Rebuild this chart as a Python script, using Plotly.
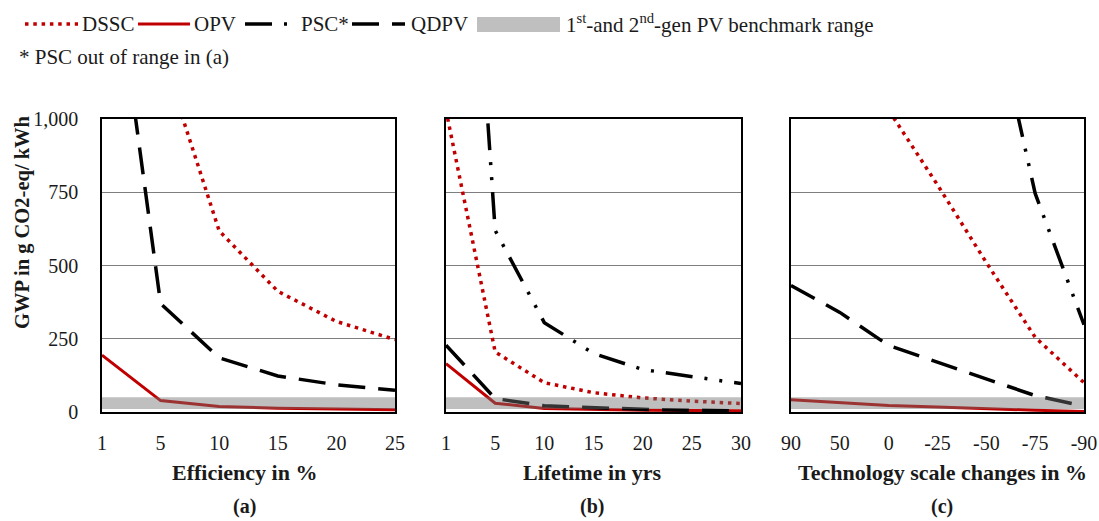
import plotly.graph_objects as go

# ---- data -------------------------------------------------------------
eff_labels = ["1", "5", "10", "15", "20", "25"]
dssc_eff = [6180, 1236, 618, 412, 309, 247]
opv_eff = [194, 39, 19, 13, 10, 8]
qdpv_eff = [1850, 370, 185, 123, 93, 74]

life_labels = ["1", "5", "10", "15", "20", "25", "30"]
dssc_life = [1030, 205, 100, 66, 48, 37, 29]
opv_life = [165, 30, 12, 8, 6, 5, 4]
psc_life = [3100, 620, 305, 200, 145, 122, 97]
qdpv_life = [228, 46, 21, 14, 9, 6, 4]

scale_labels = ["90", "50", "0", "-25", "-50", "-75", "-90"]
dssc_scale = [1960, 1545, 1030, 775, 510, 255, 100]
opv_scale = [42, 33, 22, 17, 11, 6, 2]
psc_scale = [5670, 4475, 2985, 2240, 1490, 746, 298]
qdpv_scale = [432, 340, 227, 170, 110, 56, 20]

benchmark_low, benchmark_high = 10, 50

y_ticks = [0, 250, 500, 750, 1000]
y_ticktext = ["0", "250", "500", "750", "1,000"]

x_titles = ["Efficiency in %", "Lifetime in yrs", "Technology scale changes in %"]
panel_tags = ["(a)", "(b)", "(c)"]

# ---- styling ----------------------------------------------------------
W, H = 1099, 521
FONT = "'Liberation Serif', 'Times New Roman', 'DejaVu Serif', serif"
RED = "#C00000"
BLACK = "#000000"
TEXT = "#1a1a1a"
BAND = "rgba(112,112,112,0.45)"
LEGEND_SIZE = 21

styles = {
    "DSSC": dict(color=RED, width=3.5, dash="3.5px,4.8px"),
    "OPV": dict(color=RED, width=3),
    "PSC*": dict(color=BLACK, width=3.5, dash="27px,12px,3px,12px,3px,12px"),
    "QDPV": dict(color=BLACK, width=3.5, dash="27px,13px"),
}


def fx(x):
    return x / W


def fy(y):
    return 1 - y / H


panels = [
    (eff_labels, {"DSSC": dssc_eff, "OPV": opv_eff, "QDPV": qdpv_eff}),
    (life_labels, {"DSSC": dssc_life, "OPV": opv_life, "PSC*": psc_life, "QDPV": qdpv_life}),
    (scale_labels, {"DSSC": dssc_scale, "OPV": opv_scale, "PSC*": psc_scale, "QDPV": qdpv_scale}),
]
x_domains = [(102, 395), (446, 741), (791, 1084)]
title_centers = [244, 592, 942]
y_domain = [fy(412), fy(119)]

fig = go.Figure()
layout = dict(
    width=W, height=H, autosize=False,
    margin=dict(l=0, r=0, t=0, b=0, pad=0, autoexpand=False),
    paper_bgcolor="white", plot_bgcolor="white",
    showlegend=False,
    font=dict(family=FONT, color=TEXT),
)

annotations = []
for i, (labels, series) in enumerate(panels):
    n = i + 1
    xa = "x" if n == 1 else f"x{n}"
    ya = "y" if n == 1 else f"y{n}"
    for name, vals in series.items():
        fig.add_trace(go.Scatter(
            x=labels, y=vals, mode="lines", name=name,
            line=styles[name], xaxis=xa, yaxis=ya, hoverinfo="skip",
        ))
    # benchmark range, laid over the curves
    fig.add_trace(go.Scatter(
        x=[labels[0], labels[-1], labels[-1], labels[0], labels[0]],
        y=[benchmark_low, benchmark_low, benchmark_high, benchmark_high, benchmark_low],
        mode="lines", fill="toself", fillcolor=BAND, line=dict(width=0),
        xaxis=xa, yaxis=ya, hoverinfo="skip", name="benchmark",
    ))

    d0, d1 = x_domains[i]
    layout["xaxis" if n == 1 else f"xaxis{n}"] = dict(
        domain=[fx(d0), fx(d1)], anchor=ya, type="category",
        categoryorder="array", categoryarray=labels,
        range=[0, len(labels) - 1], automargin=False,
        showline=True, mirror=True, linecolor=BLACK, linewidth=1.5,
        showgrid=False, zeroline=False,
        ticks="outside", ticklen=12, tickcolor="rgba(0,0,0,0)",
        tickfont=dict(size=20, family=FONT, color=TEXT),
    )
    layout["yaxis" if n == 1 else f"yaxis{n}"] = dict(
        domain=y_domain, anchor=xa, range=[0, 1000], automargin=False,
        tickvals=y_ticks, ticktext=y_ticktext, showticklabels=(n == 1),
        showgrid=True, gridcolor="#7f7f7f", gridwidth=1, zeroline=False,
        showline=True, mirror=True, linecolor=BLACK, linewidth=1.5,
        ticks="outside", ticklen=18, tickcolor="rgba(0,0,0,0)",
        tickfont=dict(size=20, family=FONT, color=TEXT),
    )

    cx = title_centers[i]
    annotations.append(dict(
        text=f"<b>{x_titles[i]}</b>", x=fx(cx), y=fy(472), xref="paper", yref="paper",
        showarrow=False, xanchor="center", yanchor="middle",
        font=dict(size=22, family=FONT, color=TEXT),
    ))
    annotations.append(dict(
        text=f"<b>{panel_tags[i]}</b>", x=fx(cx), y=fy(506), xref="paper", yref="paper",
        showarrow=False, xanchor="center", yanchor="middle",
        font=dict(size=20, family=FONT, color=TEXT),
    ))

annotations.append(dict(
    text="<b>GWP in g CO2-eq/ kWh</b>", x=fx(22), y=fy(222), xref="paper", yref="paper",
    textangle=-90, showarrow=False, xanchor="center", yanchor="middle",
    font=dict(size=20.5, family=FONT, color=TEXT),
))

# ---- legend row -------------------------------------------------------
shapes = []
legend_items = [
    ("DSSC", 25, 78, 80),
    ("OPV", 138, 190, 192),
    ("PSC*", 245, 292, 299),
    ("QDPV", 352, 405, 409),
]
LY = 24
for name, x0, x1, tx in legend_items:
    shapes.append(dict(
        type="line", xref="paper", yref="paper",
        x0=fx(x0), x1=fx(x1), y0=fy(LY), y1=fy(LY), line=styles[name],
    ))
    annotations.append(dict(
        text=name, x=fx(tx), y=fy(LY), xref="paper", yref="paper",
        showarrow=False, xanchor="left", yanchor="middle",
        font=dict(size=LEGEND_SIZE, family=FONT, color=TEXT),
    ))
shapes.append(dict(
    type="rect", xref="paper", yref="paper",
    x0=fx(477), x1=fx(560), y0=fy(32), y1=fy(17),
    fillcolor=BAND, line=dict(width=0),
))
annotations.append(dict(
    text="1<sup>st</sup>-and 2<sup>nd</sup>-gen PV benchmark range",
    x=fx(564), y=fy(LY), xref="paper", yref="paper",
    showarrow=False, xanchor="left", yanchor="middle",
    font=dict(size=LEGEND_SIZE, family=FONT, color=TEXT),
))
annotations.append(dict(
    text="* PSC out of range in (a)",
    x=fx(17), y=fy(57), xref="paper", yref="paper",
    showarrow=False, xanchor="left", yanchor="middle",
    font=dict(size=LEGEND_SIZE, family=FONT, color=TEXT),
))

layout["annotations"] = annotations
layout["shapes"] = shapes
fig.update_layout(**layout)

fig.write_html("out.html")
